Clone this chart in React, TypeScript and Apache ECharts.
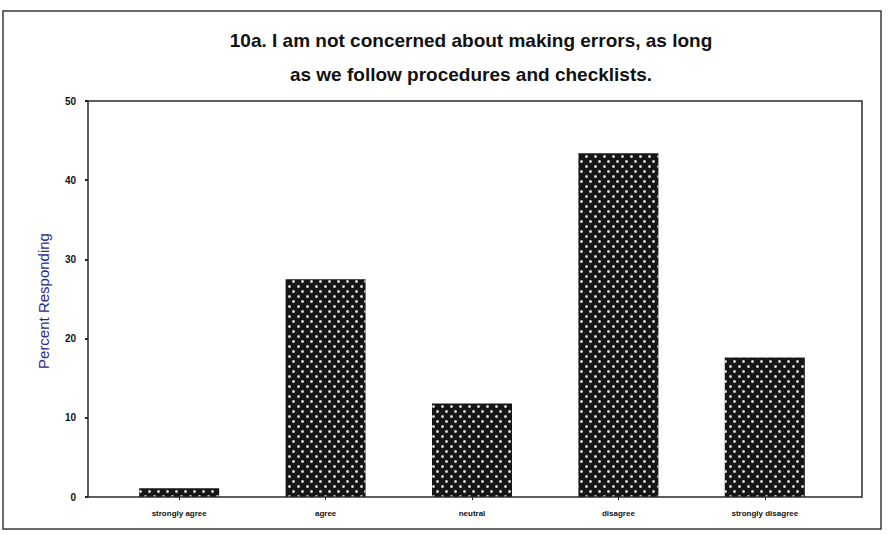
import React, { useEffect, useRef } from "react";
import * as echarts from "echarts";

const categories = ["strongly agree", "agree", "neutral", "disagree", "strongly disagree"];
const percentValues = [1.1, 27.5, 11.8, 43.4, 17.6];
const yTicks = { min: 0, max: 50, interval: 10 };
const titleLines = [
  "10a. I am not concerned about making errors, as long",
  "as we follow procedures and checklists.",
];
const yAxisName = "Percent Responding";

export default function App() {
  const ref = useRef<HTMLDivElement>(null);
  useEffect(() => {
    if (!ref.current) return;
    const chart = echarts.init(ref.current, null, { renderer: "svg" });
    chart.setOption({
      animation: false,
      backgroundColor: "#ffffff",
      title: {
        text: titleLines.join("\n"),
        left: 466,
        top: 18,
        textAlign: "center",
        textStyle: {
          fontFamily: "Liberation Sans, Arial, sans-serif",
          fontSize: 19,
          fontWeight: "bold",
          color: "#111",
          lineHeight: 34,
        },
      },
      graphic: [
        {
          type: "rect",
          shape: { x: 3, y: 11, width: 878, height: 518 },
          style: { fill: "none", stroke: "#3a3a3a", lineWidth: 1.5 },
          silent: true,
        },
        {
          type: "rect",
          shape: { x: 88, y: 101, width: 774, height: 396 },
          style: { fill: "none", stroke: "#2a2a2a", lineWidth: 1.5 },
          silent: true,
          z: 10,
        },
        {
          type: "text",
          x: 43,
          y: 301,
          rotation: Math.PI / 2,
          style: {
            text: yAxisName,
            fill: "#2a2a8c",
            font: "15px Liberation Sans, Arial, sans-serif",
            align: "center",
            verticalAlign: "middle",
          },
        },
      ],
      grid: { left: 106, right: 51, top: 101, bottom: 38 },
      xAxis: {
        type: "category",
        data: categories,
        axisLine: { show: false },
        axisTick: { show: true, alignWithLabel: true, length: 3, lineStyle: { color: "#222" } },
        axisLabel: {
          fontFamily: "Liberation Sans, Arial, sans-serif",
          fontSize: 8,
          fontWeight: "bold",
          color: "#111",
          margin: 12,
        },
      },
      yAxis: {
        type: "value",
        min: yTicks.min,
        max: yTicks.max,
        interval: yTicks.interval,
        offset: 18,
        axisLine: { show: false },
        axisTick: { show: true, length: 3, lineStyle: { color: "#222", width: 2 } },
        splitLine: { show: false },
        axisLabel: {
          fontFamily: "Liberation Sans, Arial, sans-serif",
          fontSize: 10,
          fontWeight: "bold",
          color: "#111",
          margin: 12,
        },
      },
      series: [
        {
          type: "bar",
          data: percentValues,
          barWidth: 80,
          itemStyle: {
            color: "#161616",
            decal: {
              symbol: "circle",
              symbolSize: 1,
              color: "#d4d4d4",
              dashArrayX: [[2.5, 5.5], [0, 4, 2.5, 1.5]],
              dashArrayY: [2.5, 2],
              rotation: 0,
            },
          },
        },
      ],
    });
    return () => chart.dispose();
  }, []);
  return (
    <div
      ref={ref}
      style={{ position: "fixed", left: 0, top: 0, width: 889, height: 535 }}
    />
  );
}
